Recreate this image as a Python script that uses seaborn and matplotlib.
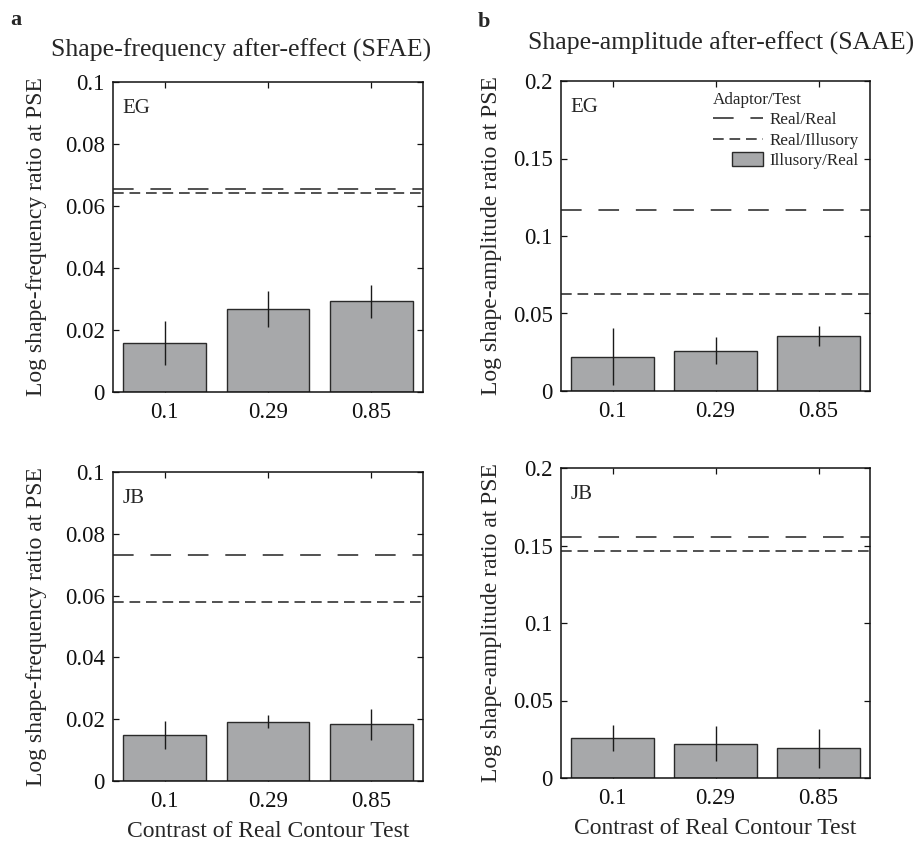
import numpy as np
import pandas as pd
import matplotlib
matplotlib.use("Agg")
import matplotlib.pyplot as plt
import matplotlib.patches as mpatches
from matplotlib.lines import Line2D
from matplotlib.legend_handler import HandlerPatch
import seaborn as sns

# ---- data -------------------------------------------------------------
contrasts = ["0.1", "0.29", "0.85"]

# Illusory/Real bars (mean and +/- error) per observer and after-effect
sfae_eg = [0.0158, 0.0268, 0.0292]
sfae_eg_err = [0.0070, 0.0059, 0.0053]
sfae_jb = [0.0149, 0.0192, 0.0183]
sfae_jb_err = [0.0046, 0.0020, 0.0051]
saae_eg = [0.0222, 0.0260, 0.0355]
saae_eg_err = [0.0185, 0.0087, 0.0065]
saae_jb = [0.0258, 0.0222, 0.0191]
saae_jb_err = [0.0087, 0.0111, 0.0126]

# Reference levels: Real/Real and Real/Illusory adaptation
sfae_eg_ref = [0.0654, 0.0643]
sfae_jb_ref = [0.0731, 0.0580]
saae_eg_ref = [0.1166, 0.0628]
saae_jb_ref = [0.1555, 0.1465]

sfae_yticks = [0, 0.02, 0.04, 0.06, 0.08, 0.1]
sfae_yticklabels = ["0", "0.02", "0.04", "0.06", "0.08", "0.1"]
saae_yticks = [0, 0.05, 0.1, 0.15, 0.2]
saae_yticklabels = ["0", "0.05", "0.1", "0.15", "0.2"]

# ---- style ------------------------------------------------------------
sns.set_style("ticks")
plt.rcParams["font.family"] = ["Liberation Serif", "DejaVu Serif"]

BAR_COLOR = "#a7a8aa"
EDGE_COLOR = "#2a2a2a"
LONG_DASH = (0, (13.5, 11.0))
SHORT_DASH = (0, (7.0, 3.8))

TICK_FS = 16.5
LABEL_FS = 17
TITLE_FS = 18.5
TAG_FS = 15
LEG_FS = 12.3

fig = plt.figure(figsize=(9.18, 8.43), dpi=100)

W, H = 918.0, 843.0


def px_axes(left, top, right, bottom):
    return fig.add_axes([left / W, 1 - bottom / H, (right - left) / W, (bottom - top) / H])


def panel(ax, values, errs, refs, yticks, yticklabels, tag, ylabel, label_x, xlabel=None):
    df = pd.DataFrame({"contrast": contrasts, "value": values})
    sns.barplot(data=df, x="contrast", y="value", color=BAR_COLOR, saturation=1,
                width=0.8, edgecolor=EDGE_COLOR, linewidth=1.0, errorbar=None, ax=ax)
    ax.errorbar(np.arange(len(values)), values, yerr=errs, fmt="none",
                ecolor="#1a1a1a", elinewidth=1.0, capsize=0, zorder=5)
    ax.axhline(refs[0], color="#222222", lw=1.1, linestyle=LONG_DASH, zorder=4)
    ax.axhline(refs[1], color="#222222", lw=1.1, linestyle=SHORT_DASH, zorder=4)
    ax.set_xlim(-0.5, len(values) - 0.5)
    ax.set_ylim(yticks[0], yticks[-1])
    ax.set_yticks(yticks)
    ax.set_yticklabels(yticklabels)
    ax.tick_params(axis="both", direction="in", length=4, width=0.9, labelsize=TICK_FS,
                   top=True, right=True, colors="#111111")
    ax.tick_params(axis="y", pad=6)
    ax.tick_params(axis="x", pad=7)
    for s in ax.spines.values():
        s.set_visible(True)
        s.set_linewidth(1.1)
        s.set_color("#111111")
    ax.set_ylabel(ylabel, fontsize=LABEL_FS)
    ax.yaxis.set_label_coords(label_x, 0.5)
    if xlabel:
        ax.set_xlabel(xlabel, fontsize=LABEL_FS)
        ax.xaxis.set_label_coords(0.5, -0.13)
    else:
        ax.set_xlabel("")
    ax.text(0.03, 0.913, tag, transform=ax.transAxes, fontsize=TAG_FS, va="center", ha="left")


ax_tl = px_axes(113, 82, 423, 392)
ax_tr = px_axes(561, 81, 870, 391)
ax_bl = px_axes(113, 472, 423, 781)
ax_br = px_axes(561, 468, 870, 778)

xlab = "Contrast of Real Contour Test"
panel(ax_tl, sfae_eg, sfae_eg_err, sfae_eg_ref, sfae_yticks, sfae_yticklabels, "EG",
      "Log shape-frequency ratio at PSE", -0.213)
panel(ax_bl, sfae_jb, sfae_jb_err, sfae_jb_ref, sfae_yticks, sfae_yticklabels, "JB",
      "Log shape-frequency ratio at PSE", -0.213, xlab)
panel(ax_tr, saae_eg, saae_eg_err, saae_eg_ref, saae_yticks, saae_yticklabels, "EG",
      "Log shape-amplitude ratio at PSE", -0.191)
panel(ax_br, saae_jb, saae_jb_err, saae_jb_ref, saae_yticks, saae_yticklabels, "JB",
      "Log shape-amplitude ratio at PSE", -0.191, xlab)


# legend: narrow swatch for the bar entry, right-aligned in its handle box
def narrow_patch(legend, orig_handle, xdescent, ydescent, width, height, fontsize):
    w = width * 0.62
    return mpatches.Rectangle((-xdescent + width - w, -ydescent - 0.5), w, height + 1.0)


handles = [
    Line2D([], [], color="#222222", lw=1.1, linestyle=LONG_DASH),
    Line2D([], [], color="#222222", lw=1.1, linestyle=SHORT_DASH),
    mpatches.Patch(facecolor=BAR_COLOR, edgecolor=EDGE_COLOR, linewidth=1.0),
]
labels = ["Real/Real", "Real/Illusory", "Illusory/Real"]
leg = ax_tr.legend(handles, labels, title="Adaptor/Test", loc="upper right",
                   bbox_to_anchor=(0.984, 0.985), frameon=False, fontsize=LEG_FS,
                   title_fontsize=LEG_FS, handlelength=2.95, handletextpad=0.38,
                   labelspacing=0.26, borderpad=0.35, borderaxespad=0.0,
                   alignment="left",
                   handler_map={mpatches.Patch: HandlerPatch(patch_func=narrow_patch)})

# column titles and panel letters
fig.text(241 / W, 1 - 57 / H, "Shape-frequency after-effect (SFAE)", fontsize=TITLE_FS,
         ha="center", va="baseline")
fig.text(721 / W, 1 - 50 / H, "Shape-amplitude after-effect (SAAE)", fontsize=TITLE_FS,
         ha="center", va="baseline")
fig.text(10 / W, 1 - 25 / H, "a", fontsize=16, fontweight="bold", ha="left", va="baseline")
fig.text(478 / W, 1 - 27 / H, "b", fontsize=16, fontweight="bold", ha="left", va="baseline")

fig.savefig("out.png", dpi=100)
